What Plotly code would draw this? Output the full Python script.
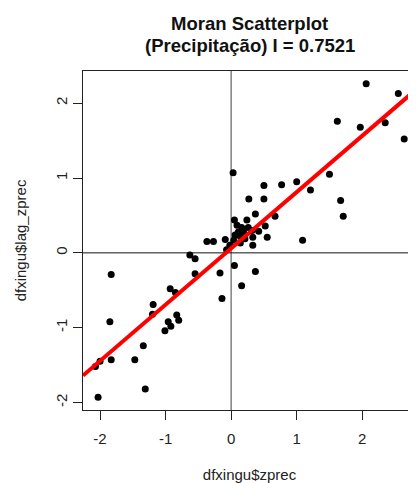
import plotly.graph_objects as go
import numpy as np

zprec = [2.06, 2.55, 1.62, 1.97, 2.35, 2.64,
         0.03, 1.50, 1.00, 0.77, 0.50, 1.21,
         0.27, 0.50, 1.67, 1.71, 0.37, 0.67,
         0.05, 0.24, 0.52, 0.09, 0.16, 0.26,
         0.11, 0.19, 0.32, 0.42, 0.06, 0.14,
         0.55, 0.33, 0.21, 0.04, 0.14, 0.33,
         1.09,
         -0.09, -0.37, -0.27, -0.02, -0.07,
         -0.63, -0.55, -0.55, -0.17, -1.83,
         -0.93, -0.85, -0.14, -1.19, -1.20,
         -0.83, -0.80, -0.96, -0.92, -1.01,
         -1.85, -1.34, -1.47, -1.83, -2.00,
         -2.07, -1.31, -2.03,
         0.05, 0.37, 0.16]
lag_zprec = [2.26, 2.13, 1.76, 1.68, 1.74, 1.52,
             1.07, 1.05, 0.95, 0.91, 0.90, 0.84,
             0.72, 0.72, 0.70, 0.49, 0.52, 0.49,
             0.44, 0.44, 0.36, 0.37, 0.34, 0.34,
             0.28, 0.28, 0.30, 0.29, 0.24, 0.22,
             0.21, 0.21, 0.19, 0.17, 0.13, 0.10,
             0.17,
             0.18, 0.15, 0.15, 0.10, 0.04,
             -0.03, -0.08, -0.28, -0.27, -0.29,
             -0.48, -0.53, -0.61, -0.69, -0.82,
             -0.83, -0.90, -0.92, -0.98, -1.04,
             -0.92, -1.24, -1.43, -1.43, -1.45,
             -1.52, -1.82, -1.93,
             -0.17, -0.25, -0.44]

moran_i = 0.7521
intercept = 0.06
x_range = [-2.26, 2.82]
y_range = [-2.10, 2.43]
x_ticks = [-2, -1, 0, 1, 2]
y_ticks = [-2, -1, 0, 1, 2]

font = "Liberation Sans, Arial, sans-serif"
W, H = 408, 475
ML, MT, MB = 75, 63, 73
PH = H - MT - MB

fig = go.Figure()
fig.add_shape(type="line", xref="x", yref="paper", x0=0, x1=0, y0=0, y1=1,
              line=dict(color="#808080", width=1.5), layer="below")
fig.add_shape(type="line", xref="paper", yref="y", x0=0, x1=1, y0=0, y1=0,
              line=dict(color="#111111", width=1), layer="below")

fig.add_trace(go.Scatter(x=zprec, y=lag_zprec, mode="markers",
                         marker=dict(color="black", size=7), showlegend=False))
lx = np.array(x_range)
fig.add_trace(go.Scatter(x=lx, y=intercept + moran_i * lx, mode="lines",
                         line=dict(color="#ff0000", width=4), showlegend=False))

fig.update_layout(
    width=W, height=H,
    margin=dict(l=ML, r=0, t=MT, b=MB, autoexpand=False),
    plot_bgcolor="white", paper_bgcolor="white",
    font=dict(family=font, color="#222222", size=15),
    xaxis=dict(range=x_range, tickvals=x_ticks, ticktext=[str(t) for t in x_ticks],
               showgrid=False, zeroline=False, showline=True, mirror=True,
               linecolor="#222222", linewidth=1.2, automargin=False,
               ticks="outside", ticklen=9, tickcolor="#222222", ticklabelstandoff=6,
               title=dict(text="dfxingu$zprec", standoff=33, font=dict(size=15))),
    yaxis=dict(range=y_range, tickvals=y_ticks, ticktext=[str(t) for t in y_ticks],
               showgrid=False, zeroline=False, showline=True, mirror=False,
               linecolor="#222222", linewidth=1.2, automargin=False,
               ticks="outside", ticklen=9, tickcolor="#222222", tickangle=-90,
               title=dict(text="dfxingu$lag_zprec", standoff=22, font=dict(size=15))),
    annotations=[
        dict(text="<b>Moran Scatterplot</b>", xref="paper", yref="paper",
             x=0.5, y=(H - MB - 15) / PH, xanchor="center", yanchor="middle",
             showarrow=False, font=dict(size=18.5, color="#111111")),
        dict(text="<b>(Precipitação) I = 0.7521</b>", xref="paper", yref="paper",
             x=0.5, y=(H - MB - 38) / PH, xanchor="center", yanchor="middle",
             showarrow=False, font=dict(size=18.5, color="#111111")),
    ],
)

fig.write_html("out.html")
